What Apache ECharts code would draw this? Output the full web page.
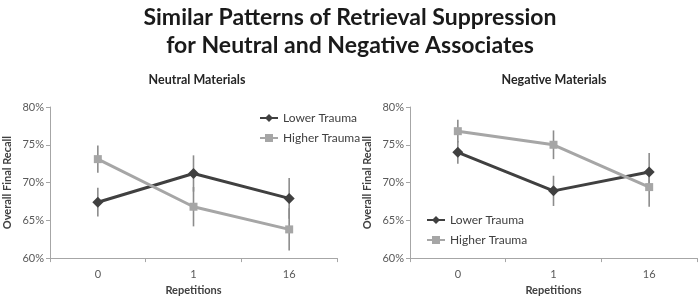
<!DOCTYPE html>
<html><head><meta charset="utf-8">
<script src="https://cdn.jsdelivr.net/npm/echarts@6/dist/echarts.min.js"></script>
<style>html,body{margin:0;padding:0;background:#fff}#c{width:700px;height:301px}</style>
</head><body><div id="c"></div>
<script>
const categories = ['0', '1', '16'];
const tickLabels = ['60%', '65%', '70%', '75%', '80%'];
const seriesNames = ['Lower Trauma', 'Higher Trauma'];
const neutralLower = [67.4, 71.2, 67.9];
const neutralLowerErr = [1.9, 2.4, 2.7];
const neutralHigher = [73.1, 66.8, 63.8];
const neutralHigherErr = [1.8, 2.6, 2.8];
const negativeLower = [74.0, 68.9, 71.4];
const negativeLowerErr = [1.5, 2.0, 2.5];
const negativeHigher = [76.8, 75.0, 69.4];
const negativeHigherErr = [1.5, 1.9, 2.6];

const FONT = 'Lato';
const darkC = '#404040', lightC = '#a6a6a6', errC = '#8c8c8c';

function errData(vals, errs) { return vals.map((v, i) => [i, v - errs[i], v + errs[i]]); }
function errSeries(idx, vals, errs) {
  return {
    type: 'custom', xAxisIndex: idx, yAxisIndex: idx, z: 1, silent: true,
    data: errData(vals, errs),
    renderItem: function (params, api) {
      const p1 = api.coord([api.value(0), api.value(1)]);
      const p2 = api.coord([api.value(0), api.value(2)]);
      return { type: 'line', shape: { x1: p1[0], y1: p1[1], x2: p2[0], y2: p2[1] },
        style: { stroke: errC, lineWidth: 1.6 } };
    }
  };
}
function lineSeries(idx, name, vals, color, symbol, size) {
  return { type: 'line', name: name, xAxisIndex: idx, yAxisIndex: idx, z: 3, data: vals,
    symbol: symbol, symbolSize: size, lineStyle: { color: color, width: 3 },
    itemStyle: { color: color }, animation: false };
}
function xAxis(idx) {
  return { type: 'category', gridIndex: idx, data: categories, boundaryGap: true,
    name: 'Repetitions', nameLocation: 'middle', nameGap: 25,
    nameTextStyle: { fontFamily: FONT, fontWeight: 'bold', fontSize: 11, color: '#404040' },
    axisLine: { lineStyle: { color: '#a6a6a6', width: 1 } },
    axisTick: { show: true, length: 4, lineStyle: { color: '#a6a6a6' } },
    axisLabel: { fontFamily: FONT, fontSize: 11, color: '#595959', margin: 11 } };
}
function yAxis(idx) {
  return { type: 'value', gridIndex: idx, min: 60, max: 80, interval: 5,
    name: 'Overall Final Recall', nameLocation: 'middle', nameGap: 37,
    nameTextStyle: { fontFamily: FONT, fontWeight: 'bold', fontSize: 11, color: '#404040' },
    axisLine: { show: true, lineStyle: { color: '#a6a6a6', width: 1 } },
    axisTick: { show: true, length: 4, lineStyle: { color: '#a6a6a6' } },
    splitLine: { show: false },
    axisLabel: { fontFamily: FONT, fontSize: 11, color: '#595959', margin: 6,
      formatter: function (v) { return tickLabels[Math.round((v - 60) / 5)]; } } };
}
const chart = echarts.init(document.getElementById('c'), null, { renderer: 'canvas' });
chart.setOption({
  animation: false,
  title: [
    { text: 'Similar Patterns of Retrieval Suppression\nfor Neutral and Negative Associates', left: 'center', top: -1,
      textStyle: { fontFamily: FONT, fontWeight: 'bold', fontSize: 23, lineHeight: 28, color: '#1a1a1a' } },
    { text: 'Neutral Materials', left: 192, top: 68, textAlign: 'center',
      textStyle: { fontFamily: FONT, fontWeight: 'bold', fontSize: 12.5, color: '#262626' } },
    { text: 'Negative Materials', left: 549, top: 68, textAlign: 'center',
      textStyle: { fontFamily: FONT, fontWeight: 'bold', fontSize: 12.5, color: '#262626' } }
  ],
  legend: [
    { data: seriesNames, orient: 'vertical', left: 254, top: 107, itemWidth: 18, itemHeight: 10, itemGap: 8,
      textStyle: { fontFamily: FONT, fontSize: 12, color: '#404040' } },
    { data: seriesNames, orient: 'vertical', left: 421, top: 209, itemWidth: 18, itemHeight: 10, itemGap: 8,
      textStyle: { fontFamily: FONT, fontSize: 12, color: '#404040' } }
  ],
  grid: [
    { left: 50, right: 363, top: 107, bottom: 38 },
    { left: 410, right: 3, top: 107, bottom: 38 }
  ],
  xAxis: [xAxis(0), xAxis(1)],
  yAxis: [yAxis(0), yAxis(1)],
  series: [
    errSeries(0, neutralLower, neutralLowerErr),
    errSeries(0, neutralHigher, neutralHigherErr),
    errSeries(1, negativeLower, negativeLowerErr),
    errSeries(1, negativeHigher, negativeHigherErr),
    lineSeries(0, seriesNames[0], neutralLower, darkC, 'diamond', 11),
    lineSeries(0, seriesNames[1], neutralHigher, lightC, 'rect', 8),
    lineSeries(1, seriesNames[0], negativeLower, darkC, 'diamond', 11),
    lineSeries(1, seriesNames[1], negativeHigher, lightC, 'rect', 8)
  ]
});
</script></body></html>
